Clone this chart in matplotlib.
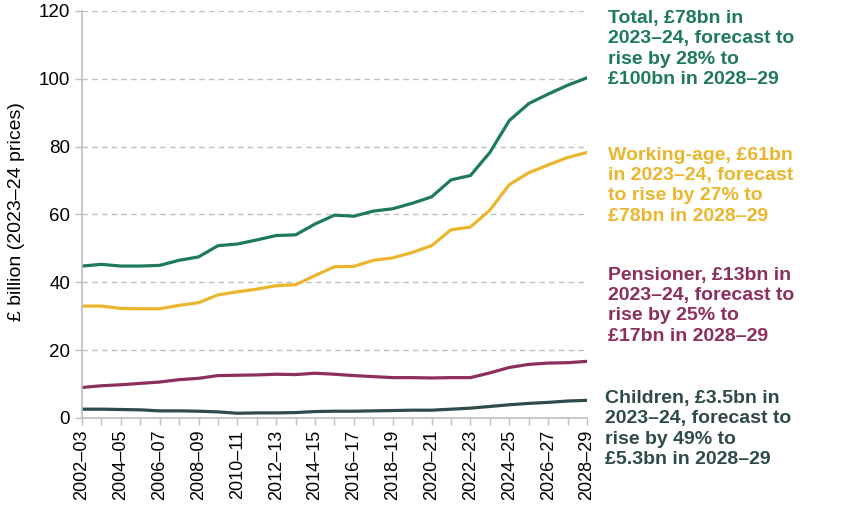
import matplotlib
matplotlib.use("Agg")
import matplotlib.pyplot as plt

plt.rcParams['font.family'] = ['Liberation Sans', 'DejaVu Sans']

years = ["2002–03", "2003–04", "2004–05", "2005–06", "2006–07", "2007–08", "2008–09",
         "2009–10", "2010–11", "2011–12", "2012–13", "2013–14", "2014–15", "2015–16",
         "2016–17", "2017–18", "2018–19", "2019–20", "2020–21", "2021–22", "2022–23",
         "2023–24", "2024–25", "2025–26", "2026–27", "2027–28", "2028–29"]

total = [44.8, 45.3, 44.8, 44.8, 45.0, 46.5, 47.5, 50.8, 51.3, 52.5, 53.8, 54.0, 57.2, 59.8,
         59.5, 61.0, 61.7, 63.3, 65.2, 70.2, 71.5, 78.3, 87.7, 92.7, 95.5, 98.1, 100.3]
working_age = [33.0, 33.0, 32.3, 32.2, 32.2, 33.2, 34.0, 36.3, 37.2, 38.0, 39.0, 39.3, 42.0, 44.6,
               44.7, 46.5, 47.2, 48.8, 50.8, 55.5, 56.3, 61.3, 68.8, 72.3, 74.6, 76.8, 78.3]
pensioner = [9.0, 9.5, 9.8, 10.2, 10.6, 11.3, 11.7, 12.5, 12.6, 12.7, 12.9, 12.8, 13.2, 12.9,
             12.5, 12.2, 11.9, 11.9, 11.8, 11.9, 11.9, 13.3, 14.9, 15.8, 16.2, 16.3, 16.7]
children = [2.6, 2.6, 2.5, 2.4, 2.1, 2.1, 2.0, 1.8, 1.4, 1.5, 1.5, 1.6, 1.9, 2.0,
            2.0, 2.1, 2.2, 2.3, 2.3, 2.6, 2.9, 3.4, 3.9, 4.3, 4.6, 5.0, 5.2]

labels = {
    "total": "Total, £78bn in\n2023–24, forecast to\nrise by 28% to\n£100bn in 2028–29",
    "working": "Working-age, £61bn\nin 2023–24, forecast\nto rise by 27% to\n£78bn in 2028–29",
    "pensioner": "Pensioner, £13bn in\n2023–24, forecast to\nrise by 25% to\n£17bn in 2028–29",
    "children": "Children, £3.5bn in\n2023–24, forecast to\nrise by 49% to\n£5.3bn in 2028–29",
}

c_total = "#1f7a57"
c_work = "#ebb62d"
c_pens = "#8c2f5d"
c_child = "#2e4a4a"
grey = "#bfbfbf"

fig = plt.figure(figsize=(8.48, 5.09), dpi=100)
ax = fig.add_axes([0.0967, 0.1788, 0.5955, 0.7996])

x = list(range(len(years)))
ax.plot(x, total, color=c_total, lw=2.3)
ax.plot(x, working_age, color=c_work, lw=2.3)
ax.plot(x, pensioner, color=c_pens, lw=2.3)
ax.plot(x, children, color=c_child, lw=2.3)

ax.set_xlim(0, len(years) - 1)
ax.set_ylim(0, 120)
ax.set_yticks(range(0, 121, 20))
ax.yaxis.grid(True, color=grey, ls=(0, (4, 3)), lw=1)
ax.set_axisbelow(True)

# tick at every year, label every other one
ax.set_xticks(x)
ax.set_xticklabels([y if i % 2 == 0 else "" for i, y in enumerate(years)], rotation=90)
ax.tick_params(axis="x", colors=grey, labelcolor="black", labelsize=13, length=5, width=1)
ax.tick_params(axis="y", colors=grey, labelcolor="black", labelsize=13.5, length=5, width=1)

for side in ["top", "right"]:
    ax.spines[side].set_visible(False)
for side in ["left", "bottom"]:
    ax.spines[side].set_color(grey)
    ax.spines[side].set_linewidth(1.2)

ax.set_ylabel("£ billion (2023–24 prices)", fontsize=14)
ax.yaxis.set_label_coords(-0.112, 0.507)

tops = {"total": 10, "working": 147, "pensioner": 267, "children": 390}
colors = {"total": c_total, "working": c_work, "pensioner": c_pens, "children": c_child}
lefts = {"total": 608, "working": 608, "pensioner": 608, "children": 605}
for key in labels:
    fig.text(lefts[key] / 848, 1 - tops[key] / 509, labels[key], color=colors[key],
             fontsize=14, fontweight="bold", va="top", ha="left", linespacing=1.25)

fig.savefig("out.png", dpi=100)
